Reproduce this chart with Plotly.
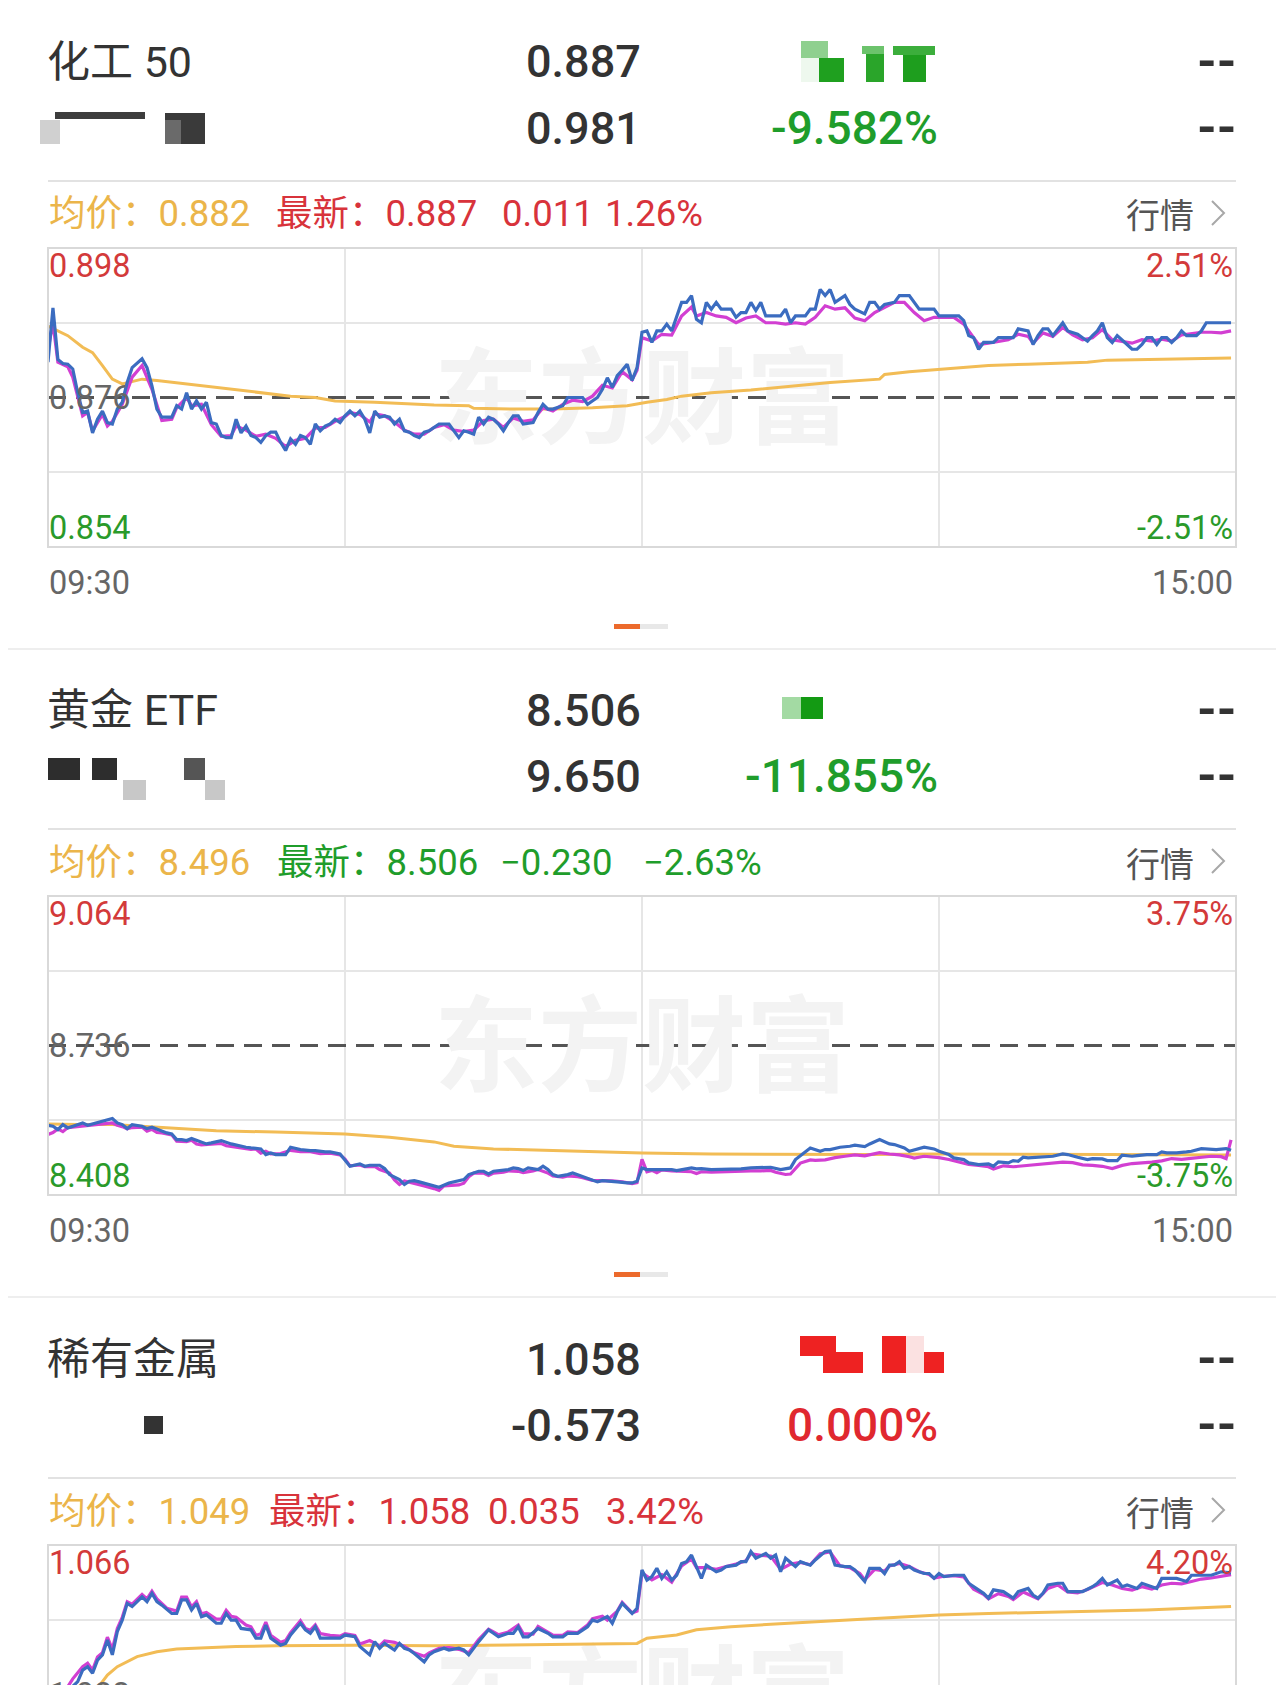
import plotly.graph_objects as go

W, H = 1284, 1685
PAGE_MARGIN = 8  # default body margin of the html page
FW, FH = W - PAGE_MARGIN, H - PAGE_MARGIN

# ---------------- data (minute index from 09:30, price) ----------------
p1_price = [(0,0.8812),(1,0.8892),(2,0.8816),(3,0.8810),(4,0.8809),(5,0.8802),(6,0.8767),(7,0.8738),(8,0.8740),(9,0.8708),(10,0.8728),(11,0.8740),(12,0.8723),(13,0.8721),(14,0.8743),(15,0.8753),(16,0.8782),(17,0.8804),(19,0.8817),(20,0.8804),(21,0.8777),(22,0.8743),(23,0.8731),(25,0.8731),(26,0.8748),(27,0.8743),(28,0.8767),(29,0.8743),(30,0.8755),(31,0.8743),(32,0.8753),(33,0.8723),(34,0.8721),(35,0.8704),(36,0.8701),(37,0.8701),(38,0.8728),(39,0.8708),(40,0.8718),(41,0.8704),(42,0.8701),(43,0.8694),(44,0.8704),(45,0.8709),(46,0.8709),(47,0.8694),(48,0.8682),(49,0.8699),(50,0.8691),(51,0.8704),(52,0.8701),(53,0.8691),(54,0.8721),(55,0.8711),(56,0.8718),(57,0.8721),(58,0.8728),(59,0.8723),(60,0.8733),(61,0.8740),(62,0.8733),(63,0.8740),(64,0.8728),(65,0.8708),(66,0.8740),(67,0.8731),(68,0.8733),(69,0.8731),(70,0.8721),(71,0.8728),(72,0.8711),(73,0.8709),(74,0.8704),(75,0.8701),(76,0.8709),(77,0.8711),(79,0.8721),(80,0.8721),(81,0.8721),(83,0.8701),(84,0.8711),(85,0.8709),(86,0.8706),(87,0.8731),(88,0.8721),(89,0.8731),(90,0.8728),(91,0.8721),(92,0.8711),(93,0.8723),(94,0.8733),(95,0.8733),(96,0.8721),(98,0.8723),(99,0.8738),(100,0.8750),(101,0.8743),(102,0.8743),(104,0.8748),(105,0.8760),(106,0.8760),(108,0.8760),(109,0.8750),(110,0.8755),(111,0.8760),(112,0.8772),(113,0.8789),(114,0.8775),(115,0.8792),(116,0.8800),(117,0.8809),(118,0.8785),(119,0.8804),(120,0.8856),(121,0.8858),(122,0.8841),(123,0.8858),(124,0.8858),(125,0.8868),(126,0.8858),(127,0.8878),(128,0.8900),(129,0.8900),(130,0.8910),(131,0.8875),(132,0.8870),(133,0.8900),(134,0.8890),(135,0.8900),(136,0.8890),(138,0.8890),(139,0.8878),(140,0.8885),(141,0.8885),(142,0.8900),(143,0.8888),(144,0.8900),(145,0.8880),(146,0.8880),(148,0.8880),(149,0.8890),(150,0.8870),(151,0.8880),(153,0.8880),(154,0.8890),(155,0.8890),(156,0.8919),(157,0.8910),(158,0.8919),(159,0.8900),(161,0.8910),(162,0.8897),(163,0.8890),(165,0.8883),(166,0.8900),(167,0.8900),(168,0.8890),(169,0.8897),(171,0.8900),(172,0.8910),(174,0.8910),(176,0.8890),(178,0.8890),(179,0.8890),(180,0.8880),(182,0.8880),(184,0.8880),(185,0.8873),(186,0.8851),(187,0.8848),(188,0.8831),(189,0.8841),(191,0.8841),(192,0.8848),(194,0.8848),(195,0.8848),(196,0.8861),(198,0.8858),(199,0.8838),(200,0.8851),(201,0.8861),(202,0.8861),(203,0.8851),(204,0.8861),(205,0.8870),(206,0.8858),(208,0.8853),(209,0.8848),(210,0.8843),(211,0.8851),(212,0.8858),(213,0.8870),(214,0.8848),(215,0.8841),(216,0.8851),(218,0.8838),(219,0.8831),(220,0.8831),(221,0.8838),(222,0.8848),(223,0.8848),(224,0.8838),(225,0.8848),(226,0.8848),(227,0.8841),(228,0.8848),(229,0.8858),(230,0.8851),(232,0.8851),(233,0.8858),(234,0.8870),(236,0.8870),(239,0.8870)]
p1_iopv = [(0,0.8830),(1,0.8870),(2,0.8812),(4,0.8805),(5,0.8790),(7,0.8733),(8,0.8738),(9,0.8711),(10,0.8723),(11,0.8735),(12,0.8718),(13,0.8725),(15,0.8750),(17,0.8790),(19,0.8807),(21,0.8772),(23,0.8726),(25,0.8728),(26,0.8745),(28,0.8760),(29,0.8748),(31,0.8750),(33,0.8720),(35,0.8703),(37,0.8704),(38,0.8718),(40,0.8712),(42,0.8703),(44,0.8706),(46,0.8700),(48,0.8688),(50,0.8697),(52,0.8700),(54,0.8715),(56,0.8716),(58,0.8725),(60,0.8732),(61,0.8738),(63,0.8735),(65,0.8724),(66,0.8736),(68,0.8733),(70,0.8724),(72,0.8712),(74,0.8706),(76,0.8706),(78,0.8716),(80,0.8720),(82,0.8712),(84,0.8710),(86,0.8712),(88,0.8726),(90,0.8728),(92,0.8716),(94,0.8730),(96,0.8725),(98,0.8727),(100,0.8745),(102,0.8740),(104,0.8750),(106,0.8756),(108,0.8754),(110,0.8762),(112,0.8778),(114,0.8774),(116,0.8798),(118,0.8786),(119,0.8800),(120,0.8848),(122,0.8843),(124,0.8853),(126,0.8852),(128,0.8880),(130,0.8893),(131,0.8880),(133,0.8885),(135,0.8880),(137,0.8878),(139,0.8870),(141,0.8877),(143,0.8880),(145,0.8870),(147,0.8870),(149,0.8868),(151,0.8870),(153,0.8868),(155,0.8878),(157,0.8895),(159,0.8890),(161,0.8892),(163,0.8877),(165,0.8873),(167,0.8885),(169,0.8893),(171,0.8900),(173,0.8900),(175,0.8885),(177,0.8873),(179,0.8878),(181,0.8878),(183,0.8878),(185,0.8868),(187,0.8848),(188,0.8838),(190,0.8840),(192,0.8843),(194,0.8845),(196,0.8853),(198,0.8850),(199,0.8840),(201,0.8855),(203,0.8850),(205,0.8863),(207,0.8852),(209,0.8845),(211,0.8848),(213,0.8860),(215,0.8845),(217,0.8843),(219,0.8840),(221,0.8845),(223,0.8843),(225,0.8846),(227,0.8843),(229,0.8852),(231,0.8854),(233,0.8856),(235,0.8856),(237,0.8855),(239,0.8858)]
p1_avg = [(0,0.8865),(4,0.8851),(7,0.8834),(9,0.8826),(11,0.8807),(13,0.8787),(15,0.8780),(19,0.8787),(22,0.8785),(28,0.8780),(37,0.8772),(49,0.8762),(54,0.8760),(58,0.8755),(66,0.8753),(78,0.8749),(85,0.8748),(86,0.8744),(94,0.8743),(102,0.8743),(110,0.8745),(117,0.8748),(121,0.8753),(125,0.8757),(128,0.8762),(134,0.8767),(142,0.8771),(150,0.8776),(158,0.8782),(168,0.8787),(169,0.8794),(174,0.8798),(182,0.8802),(190,0.8807),(198,0.8809),(210,0.8812),(214,0.8815),(222,0.8816),(230,0.8817),(239,0.8818)]

p2_price = [(0,8.5610),(1,8.5588),(2,8.5515),(3,8.5625),(4,8.5552),(5,8.5588),(7,8.5662),(8,8.5610),(9,8.5640),(11,8.5698),(13,8.5757),(14,8.5662),(15,8.5625),(16,8.5537),(17,8.5625),(19,8.5588),(20,8.5537),(21,8.5566),(23,8.5479),(24,8.5442),(25,8.5420),(26,8.5296),(27,8.5296),(28,8.5274),(29,8.5318),(31,8.5245),(32,8.5201),(33,8.5223),(35,8.5274),(37,8.5201),(38,8.5172),(40,8.5128),(41,8.5113),(43,8.5091),(44,8.4967),(45,8.5003),(46,8.4967),(48,8.4967),(49,8.5128),(51,8.5076),(53,8.5055),(54,8.5055),(56,8.5025),(57,8.5025),(59,8.4981),(60,8.4857),(61,8.4711),(63,8.4762),(64,8.4711),(65,8.4733),(67,8.4733),(68,8.4660),(69,8.4528),(71,8.4418),(72,8.4309),(73,8.4382),(74,8.4396),(75,8.4367),(77,8.4309),(78,8.4294),(79,8.4250),(81,8.4345),(82,8.4367),(83,8.4382),(84,8.4418),(85,8.4528),(87,8.4601),(88,8.4601),(89,8.4543),(90,8.4601),(91,8.4616),(93,8.4638),(94,8.4674),(95,8.4660),(96,8.4616),(97,8.4674),(99,8.4638),(100,8.4711),(101,8.4638),(102,8.4528),(103,8.4491),(105,8.4528),(106,8.4565),(107,8.4528),(108,8.4491),(109,8.4455),(111,8.4367),(112,8.4396),(113,8.4382),(115,8.4367),(117,8.4345),(118,8.4345),(119,8.4380),(120,8.4674),(121,8.4638),(122,8.4638),(123,8.4638),(125,8.4652),(126,8.4638),(127,8.4616),(128,8.4638),(130,8.4674),(131,8.4652),(132,8.4660),(134,8.4638),(135,8.4638),(137,8.4638),(138,8.4638),(140,8.4652),(142,8.4674),(143,8.4674),(145,8.4674),(146,8.4689),(148,8.4638),(149,8.4660),(150,8.4674),(151,8.4857),(153,8.5040),(154,8.5113),(156,8.5040),(157,8.5076),(158,8.5076),(160,8.5128),(162,8.5150),(163,8.5172),(165,8.5142),(166,8.5201),(168,8.5296),(170,8.5201),(171,8.5186),(172,8.5150),(173,8.5113),(174,8.5040),(176,8.5098),(177,8.5128),(179,8.5091),(180,8.5040),(182,8.4967),(183,8.4894),(185,8.4857),(186,8.4784),(188,8.4747),(190,8.4762),(191,8.4711),(192,8.4806),(194,8.4784),(195,8.4835),(196,8.4820),(197,8.4908),(198,8.4894),(200,8.4908),(202,8.4930),(203,8.4930),(205,8.4981),(206,8.4967),(208,8.4908),(210,8.4857),(211,8.4879),(213,8.4872),(214,8.4835),(216,8.4835),(217,8.4952),(219,8.4930),(220,8.4945),(222,8.4967),(224,8.4967),(225,8.5025),(226,8.5003),(228,8.5003),(230,8.5025),(231,8.5040),(233,8.5098),(234,8.5091),(236,8.5076),(238,8.5098),(239,8.5060)]
p2_iopv = [(0,8.5406),(1,8.5450),(2,8.5530),(3,8.5470),(4,8.5560),(6,8.5580),(8,8.5610),(10,8.5620),(12,8.5640),(13,8.5660),(14,8.5610),(15,8.5580),(16,8.5530),(17,8.5560),(19,8.5570),(20,8.5480),(21,8.5520),(22,8.5450),(23,8.5440),(25,8.5400),(26,8.5260),(27,8.5260),(28,8.5250),(29,8.5280),(30,8.5200),(31,8.5180),(33,8.5190),(35,8.5210),(36,8.5160),(38,8.5130),(40,8.5110),(41,8.5080),(42,8.5090),(43,8.5000),(44,8.5040),(45,8.4980),(47,8.4990),(49,8.5060),(51,8.5030),(53,8.5030),(55,8.4990),(57,8.5000),(59,8.4960),(60,8.4870),(61,8.4720),(63,8.4740),(64,8.4700),(66,8.4710),(67,8.4640),(69,8.4560),(70,8.4410),(71,8.4310),(72,8.4390),(74,8.4340),(75,8.4320),(76,8.4280),(78,8.4220),(79,8.4180),(80,8.4280),(82,8.4300),(83,8.4300),(84,8.4340),(85,8.4480),(86,8.4560),(88,8.4560),(89,8.4510),(90,8.4560),(92,8.4580),(93,8.4610),(95,8.4600),(96,8.4570),(98,8.4610),(99,8.4640),(101,8.4560),(102,8.4500),(104,8.4470),(105,8.4500),(107,8.4480),(108,8.4460),(110,8.4400),(112,8.4400),(114,8.4390),(116,8.4370),(118,8.4330),(119,8.4350),(120,8.4860),(121,8.4590),(122,8.4620),(123,8.4570),(124,8.4630),(126,8.4610),(128,8.4600),(130,8.4590),(131,8.4550),(132,8.4590),(134,8.4580),(136,8.4590),(138,8.4600),(140,8.4600),(142,8.4610),(144,8.4610),(146,8.4620),(147,8.4580),(149,8.4530),(150,8.4540),(152,8.4780),(154,8.4850),(155,8.4840),(157,8.4850),(159,8.4900),(161,8.4930),(163,8.4960),(165,8.4940),(167,8.4980),(168,8.5010),(170,8.4980),(172,8.4960),(174,8.4920),(175,8.4890),(177,8.4930),(179,8.4920),(180,8.4900),(182,8.4860),(184,8.4800),(186,8.4750),(188,8.4730),(190,8.4700),(191,8.4650),(193,8.4720),(195,8.4700),(197,8.4720),(199,8.4740),(201,8.4750),(203,8.4770),(205,8.4800),(207,8.4790),(209,8.4740),(211,8.4730),(213,8.4710),(215,8.4660),(217,8.4730),(219,8.4770),(221,8.4780),(223,8.4800),(225,8.4830),(227,8.4880),(229,8.4860),(231,8.4880),(233,8.4900),(235,8.4930),(237,8.4920),(238,8.4880),(239,8.5290)]
p2_avg = [(0,8.5640),(6,8.5625),(13,8.5625),(22,8.5566),(34,8.5490),(46,8.5460),(60,8.5420),(69,8.5347),(78,8.5245),(82,8.5150),(90,8.5091),(102,8.5055),(118,8.5003),(120,8.5003),(134,8.4981),(150,8.4967),(166,8.4967),(180,8.4981),(198,8.4967),(214,8.4967),(239,8.4960)]

p3_price = [(0,1.0210),(2,1.0195),(4,1.0240),(5,1.0253),(6,1.0267),(7,1.0300),(8,1.0310),(9,1.0291),(10,1.0329),(11,1.0344),(12,1.0387),(13,1.0344),(14,1.0411),(15,1.0444),(16,1.0492),(17,1.0483),(19,1.0511),(20,1.0497),(21,1.0521),(22,1.0497),(23,1.0487),(25,1.0463),(26,1.0463),(27,1.0502),(28,1.0502),(29,1.0473),(30,1.0492),(31,1.0454),(32,1.0459),(34,1.0435),(35,1.0435),(36,1.0463),(37,1.0444),(38,1.0444),(39,1.0420),(41,1.0416),(42,1.0392),(43,1.0392),(44,1.0430),(45,1.0392),(47,1.0372),(48,1.0377),(49,1.0401),(51,1.0435),(52,1.0416),(53,1.0406),(54,1.0425),(55,1.0392),(57,1.0392),(59,1.0392),(60,1.0401),(62,1.0396),(63,1.0368),(65,1.0344),(66,1.0382),(67,1.0363),(68,1.0377),(70,1.0358),(71,1.0377),(72,1.0363),(73,1.0358),(74,1.0348),(76,1.0324),(77,1.0344),(78,1.0353),(80,1.0363),(81,1.0358),(83,1.0363),(84,1.0358),(85,1.0344),(87,1.0382),(89,1.0416),(90,1.0406),(91,1.0396),(93,1.0406),(94,1.0406),(95,1.0425),(96,1.0396),(97,1.0396),(99,1.0420),(101,1.0406),(102,1.0396),(104,1.0396),(105,1.0406),(107,1.0406),(109,1.0425),(110,1.0444),(111,1.0440),(113,1.0454),(114,1.0435),(115,1.0468),(116,1.0492),(118,1.0463),(119,1.0478),(120,1.0588),(121,1.0559),(122,1.0569),(123,1.0593),(124,1.0564),(125,1.0583),(126,1.0559),(127,1.0573),(128,1.0607),(129,1.0612),(130,1.0631),(131,1.0598),(132,1.0564),(133,1.0602),(135,1.0583),(136,1.0588),(137,1.0598),(139,1.0602),(140,1.0612),(141,1.0612),(142,1.0641),(143,1.0622),(145,1.0636),(146,1.0622),(147,1.0631),(148,1.0583),(149,1.0622),(151,1.0598),(152,1.0612),(153,1.0607),(154,1.0602),(155,1.0617),(157,1.0641),(158,1.0643),(159,1.0602),(161,1.0598),(162,1.0598),(163,1.0588),(164,1.0573),(165,1.0555),(166,1.0593),(168,1.0593),(169,1.0578),(170,1.0602),(171,1.0602),(172,1.0612),(173,1.0593),(174,1.0598),(175,1.0588),(177,1.0578),(178,1.0578),(179,1.0564),(180,1.0578),(181,1.0569),(183,1.0573),(185,1.0573),(186,1.0550),(188,1.0531),(189,1.0521),(190,1.0507),(191,1.0531),(193,1.0526),(194,1.0516),(195,1.0507),(196,1.0526),(198,1.0535),(199,1.0516),(200,1.0507),(201,1.0521),(202,1.0545),(204,1.0550),(205,1.0550),(206,1.0526),(208,1.0526),(209,1.0526),(211,1.0540),(212,1.0550),(213,1.0564),(214,1.0545),(216,1.0559),(217,1.0540),(218,1.0545),(220,1.0535),(221,1.0550),(222,1.0545),(224,1.0535),(225,1.0564),(226,1.0564),(228,1.0564),(230,1.0555),(231,1.0573),(233,1.0573),(235,1.0573),(237,1.0583),(239,1.0580)]
p3_iopv = [(0,1.0215),(3,1.0230),(5,1.0275),(7,1.0310),(8,1.0320),(9,1.0300),(10,1.0338),(11,1.0350),(12,1.0395),(13,1.0360),(14,1.0420),(15,1.0452),(16,1.0497),(17,1.0490),(19,1.0518),(20,1.0505),(21,1.0527),(22,1.0505),(24,1.0478),(26,1.0470),(27,1.0510),(28,1.0510),(29,1.0482),(30,1.0497),(31,1.0462),(32,1.0466),(34,1.0447),(35,1.0447),(36,1.0472),(37,1.0455),(38,1.0452),(40,1.0430),(41,1.0425),(42,1.0400),(43,1.0405),(44,1.0438),(45,1.0400),(47,1.0380),(48,1.0385),(49,1.0408),(51,1.0442),(52,1.0420),(53,1.0415),(54,1.0430),(55,1.0405),(57,1.0400),(59,1.0398),(60,1.0405),(62,1.0400),(63,1.0375),(65,1.0385),(67,1.0370),(68,1.0384),(70,1.0380),(72,1.0368),(74,1.0350),(76,1.0340),(77,1.0350),(79,1.0363),(81,1.0365),(83,1.0360),(85,1.0350),(87,1.0388),(89,1.0418),(90,1.0410),(91,1.0402),(93,1.0410),(95,1.0430),(96,1.0405),(98,1.0404),(99,1.0426),(101,1.0410),(102,1.0401),(104,1.0400),(105,1.0410),(107,1.0408),(109,1.0430),(110,1.0448),(112,1.0455),(113,1.0444),(115,1.0470),(116,1.0495),(118,1.0465),(119,1.0470),(120,1.0580),(122,1.0560),(124,1.0575),(126,1.0553),(128,1.0600),(130,1.0620),(131,1.0595),(133,1.0595),(135,1.0590),(137,1.0598),(139,1.0605),(141,1.0615),(142,1.0635),(144,1.0630),(146,1.0628),(148,1.0590),(150,1.0605),(152,1.0610),(154,1.0603),(156,1.0635),(158,1.0640),(160,1.0600),(162,1.0595),(164,1.0578),(165,1.0560),(167,1.0590),(169,1.0585),(170,1.0600),(172,1.0607),(174,1.0598),(176,1.0583),(178,1.0575),(179,1.0565),(181,1.0570),(183,1.0572),(185,1.0568),(187,1.0533),(189,1.0518),(190,1.0505),(192,1.0520),(194,1.0512),(195,1.0503),(197,1.0525),(199,1.0512),(200,1.0505),(202,1.0535),(204,1.0545),(206,1.0525),(208,1.0522),(210,1.0532),(212,1.0545),(213,1.0552),(215,1.0545),(217,1.0535),(219,1.0530),(221,1.0540),(223,1.0533),(225,1.0545),(227,1.0550),(229,1.0548),(231,1.0555),(233,1.0562),(235,1.0565),(237,1.0570),(239,1.0575)]
p3_avg = [(0,1.0180),(5,1.0215),(10,1.0248),(12,1.0286),(14,1.0310),(18,1.0339),(22,1.0353),(26,1.0361),(32,1.0365),(38,1.0368),(46,1.0370),(62,1.0372),(78,1.0370),(94,1.0372),(110,1.0376),(119,1.0377),(121,1.0392),(124,1.0396),(127,1.0401),(131,1.0416),(138,1.0425),(146,1.0432),(156,1.0440),(159,1.0444),(170,1.0451),(180,1.0459),(190,1.0463),(206,1.0468),(222,1.0473),(239,1.0483)]

names = ["化工 50", "黄金 ETF", "稀有金属"]
quote_1 = ["0.887", "8.506", "1.058"]
quote_2 = ["0.981", "9.650", "-0.573"]
premium = ["-9.582%", "-11.855%", "0.000%"]
avg_text = ["0.882", "8.496", "1.049"]
last_text = ["0.887", "8.506", "1.058"]
chg_text = ["0.011", "−0.230", "0.035"]
chgpct_text = ["1.26%", "−2.63%", "3.42%"]
top_label = ["0.898", "9.064", "1.066"]
mid_label = ["0.876", "8.736", "1.023"]
bot_label = ["0.854", "8.408", "0.980"]
pct_label = ["2.51%", "3.75%", "4.20%"]
time_labels = ["09:30", "15:00"]

# ---------------- styling ----------------
FONT = "Roboto, 'Noto Sans CJK SC', sans-serif"
CJK = "'Noto Sans CJK SC', sans-serif"
DARK = "#333333"
GREEN = "#1f9d2b"
RED = "#e0282f"
RED2 = "#d8333b"
ORANGE_T = "#ebb54a"
BLUE = "#3b6cc0"
MAGENTA = "#d23fd2"
ORANGE = "#f2bc55"
GRID = "#e6e6e6"

premium_color = [GREEN, GREEN, RED]
row_color = [RED2, GREEN, RED2]
OFF = [0, 648, 1297]
BOX_H = 299
X0, X1 = 48, 1236
last_x = [274, 275, 267]
chg_x = [500, 498, 486]
cpct_x = [603, 641, 604]


def px(x):
    return (x - PAGE_MARGIN) / FW


def py(y):
    return 1 - (y - PAGE_MARGIN) / FH


fig = go.Figure()
annotations = []
shapes = []


def ann(x, y, text, size, color, anchor="left", family=FONT, weight=400):
    annotations.append(dict(x=px(x), y=py(y), xref="paper", yref="paper", text=text,
                             showarrow=False, xanchor=anchor, yanchor="middle",
                             font=dict(size=size, color=color, family=family, weight=weight)))


def rect(x0, y0, x1, y1, color):
    shapes.append(dict(type="rect", xref="paper", yref="paper", x0=px(x0), x1=px(x1),
                       y0=py(y1), y1=py(y0), fillcolor=color, line=dict(width=0), layer="above"))


def hline(x0, x1, y, color, width):
    shapes.append(dict(type="line", xref="paper", yref="paper", x0=px(x0), x1=px(x1),
                       y0=py(y), y1=py(y), line=dict(color=color, width=width)))


series = [(p1_price, p1_iopv, p1_avg), (p2_price, p2_iopv, p2_avg), (p3_price, p3_iopv, p3_avg)]

for i in range(3):
    o = OFF[i]
    top = float(top_label[i]); mid = float(mid_label[i]); bot = float(bot_label[i])
    box_top = 248 + o
    box_bot = box_top + BOX_H
    if box_bot <= H:
        ydom = [py(box_bot), py(box_top)]
        yr = [bot, top]
    else:
        ydom = [0, py(box_top)]
        frac = (H - box_top) / BOX_H
        yr = [top - (top - bot) * frac, top]
    q = (top - bot) / 4
    per_px = (top - bot) / BOX_H
    sfx = "" if i == 0 else str(i + 1)
    fig.update_layout(**{
        "xaxis" + sfx: dict(domain=[px(X0), px(X1)], range=[0, 240], tickvals=[60, 120, 180],
                            showgrid=True, gridcolor=GRID, gridwidth=1.5, showticklabels=False,
                            zeroline=False, showline=False, ticks="", anchor="y" + sfx, fixedrange=True),
        "yaxis" + sfx: dict(domain=ydom, range=yr, tickvals=[top - q, bot + q], showgrid=True,
                            gridcolor=GRID, gridwidth=1.5, showticklabels=False, zeroline=False,
                            showline=False, ticks="", anchor="x" + sfx, fixedrange=True),
    })
    xa, ya = "x" + sfx, "y" + sfx

    # watermark (centred on the chart; shifted 12px down to centre the glyphs)
    fig.add_trace(go.Scatter(x=[120], y=[mid - 12 * per_px], mode="text", text=["东方财富"],
                             xaxis=xa, yaxis=ya,
                             textfont=dict(size=104, color="#f3f3f3", family=CJK, weight=700),
                             hoverinfo="skip", showlegend=False))
    price, iopv, avg = series[i]
    for data, col, wd in ((avg, ORANGE, 3), (iopv, MAGENTA, 3.2), (price, BLUE, 3.2)):
        fig.add_trace(go.Scatter(x=[t for t, _ in data], y=[v for _, v in data], mode="lines",
                                 line=dict(color=col, width=wd), xaxis=xa, yaxis=ya,
                                 hoverinfo="skip", showlegend=False))
    # prev close dashed line
    shapes.append(dict(type="line", xref=xa, yref=ya, x0=0, x1=240, y0=mid, y1=mid,
                       line=dict(color="#555555", width=3, dash="18px,10px"), layer="between"))
    # chart box
    shapes.append(dict(type="rect", xref="paper", yref="paper", x0=px(X0), x1=px(X1),
                       y0=py(box_bot), y1=py(box_top), line=dict(color="#d9d9d9", width=2),
                       fillcolor="rgba(0,0,0,0)", layer="above"))

    # header
    ann(45, 62 + o, names[i], 43, DARK, family=FONT)
    ann(643, 62 + o, quote_1[i], 45, DARK, anchor="right", weight=500)
    ann(643, 128 + o, quote_2[i], 45, DARK, anchor="right", weight=500)
    ann(940, 128 + o, premium[i], 46, premium_color[i], anchor="right", weight=500)
    ann(1238, 62 + o, "--", 50, DARK, anchor="right", weight=700)
    ann(1238, 128 + o, "--", 50, DARK, anchor="right", weight=700)
    hline(X0, X1, 181 + o, "#e2e2e2", 2)

    # info row
    ann(47, 214 + o, "均价：" + avg_text[i], 36.5, ORANGE_T)
    ann(last_x[i], 214 + o, "最新：" + last_text[i], 36.5, row_color[i])
    ann(chg_x[i], 214 + o, chg_text[i], 36.5, row_color[i])
    ann(cpct_x[i], 214 + o, chgpct_text[i], 36.5, row_color[i])
    ann(1196, 214 + o, "行情", 34, "#555555", anchor="right", family=CJK)
    shapes.append(dict(type="path", xref="paper", yref="paper",
                       path=f"M {px(1212)} {py(201 + o)} L {px(1224)} {py(213 + o)} L {px(1212)} {py(225 + o)}",
                       line=dict(color="#a8a8a8", width=2)))

    # axis labels
    ann(47, 266 + o, top_label[i], 32.5, "#d33a3a")
    ann(1235, 266 + o, pct_label[i], 32.5, "#d33a3a", anchor="right")
    ann(47, 398 + o, mid_label[i], 32.5, "#666666")
    if i < 2:
        ann(47, 528 + o, bot_label[i], 32.5, "#2a9a2a")
        ann(1235, 528 + o, "-" + pct_label[i], 32.5, "#2a9a2a", anchor="right")
        ann(47, 583 + o, time_labels[0], 32.5, "#666666")
        ann(1235, 583 + o, time_labels[1], 32.5, "#666666", anchor="right")
        # page indicator
        shapes.append(dict(type="line", xref="paper", yref="paper", x0=px(640), x1=px(668),
                           y0=py(626.5 + o), y1=py(626.5 + o), line=dict(color="#e8e8e8", width=5)))
        shapes.append(dict(type="line", xref="paper", yref="paper", x0=px(614), x1=px(640),
                           y0=py(626.5 + o), y1=py(626.5 + o), line=dict(color="#ec6a2c", width=5)))
        hline(PAGE_MARGIN, W, 649 + o, "#eeeeee", 2)

# redaction mosaics (blurred blocks in the screenshot)
for r in [(801, 41, 828, 58, "#8fd08f"), (801, 58, 819, 82, "#eef8ee"), (819, 58, 844, 82, "#1fa01f"),
          (862, 46, 884, 54, "#6cc36c"), (866, 54, 884, 82, "#2aa52a"), (893, 46, 935, 55, "#3cae3c"),
          (903, 55, 926, 82, "#1e9e1e"),
          (40, 120, 60, 144, "#d0d0d0"), (55, 112, 145, 119, "#3d3d3d"), (165, 113, 205, 144, "#3a3a3a"),
          (165, 120, 181, 144, "#6a6a6a"),
          (782, 697, 801, 719, "#a3daa3"), (801, 697, 823, 719, "#139a13"),
          (48, 758, 80, 780, "#2d2d2d"), (92, 758, 117, 780, "#2d2d2d"), (123, 780, 146, 800, "#c8c8c8"),
          (184, 758, 205, 780, "#555555"), (205, 780, 225, 800, "#c8c8c8"),
          (800, 1336, 836, 1356, "#ee2222"), (823, 1352, 863, 1373, "#ee2222"), (882, 1336, 906, 1373, "#ee2222"),
          (906, 1336, 924, 1373, "#fbe1e1"), (924, 1352, 944, 1373, "#ee2222"),
          (144, 1416, 163, 1434, "#333333")]:
    rect(*r)

fig.update_layout(width=FW, height=FH, margin=dict(l=0, r=0, t=0, b=0),
                  paper_bgcolor="white", plot_bgcolor="rgba(0,0,0,0)", showlegend=False,
                  annotations=annotations, shapes=shapes)
fig.write_html("out.html")
